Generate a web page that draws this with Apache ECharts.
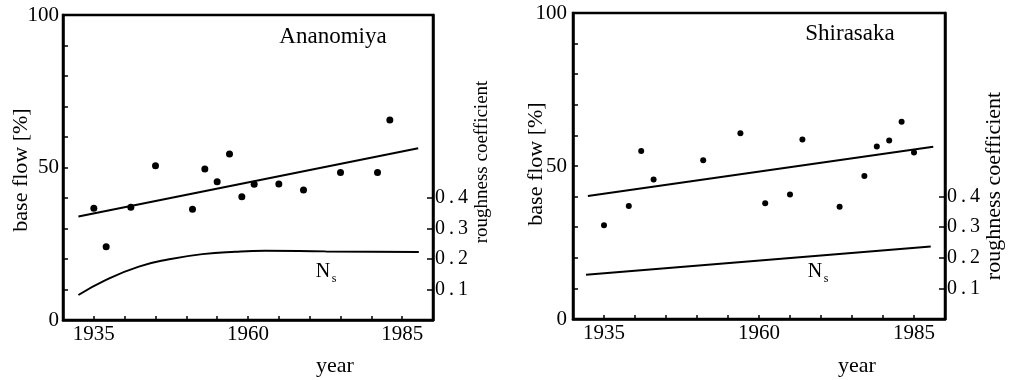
<!DOCTYPE html>
<html>
<head>
<meta charset="utf-8">
<script src="https://cdn.jsdelivr.net/npm/echarts@6/dist/echarts.min.js"></script>
<style>
html, body { margin: 0; padding: 0; background: #fff; }
#main { width: 1013px; height: 380px; }
</style>
</head>
<body>
<div id="main"></div>
<script>
// Ananomiya (left panel)
const anaYears = [1935, 1937, 1941, 1945, 1951, 1953, 1955, 1957, 1959, 1961, 1965, 1969, 1975, 1981, 1983];
const anaFlow = [36.6, 24.0, 37.0, 50.6, 36.3, 49.5, 45.3, 54.4, 40.4, 44.5, 44.6, 42.6, 48.4, 48.4, 65.6];
const anaTrendYears = [1932.5, 1987.6];
const anaTrendFlow = [33.9, 56.3];
const anaNsYears = [1932.5, 1936.9, 1942.3, 1947.2, 1952.6, 1958.0, 1962.8, 1972.6, 1987.7];
const anaNs = [0.082, 0.131, 0.175, 0.199, 0.216, 0.224, 0.227, 0.225, 0.223];

// Shirasaka (right panel)
const shiYears = [1935, 1939, 1941, 1943, 1951, 1957, 1961, 1965, 1967, 1973, 1977, 1979, 1981, 1983, 1985];
const shiFlow = [30.6, 36.9, 54.9, 45.6, 51.9, 60.7, 37.8, 40.7, 58.7, 36.7, 46.7, 56.4, 58.3, 64.5, 54.4];
const shiTrendYears = [1932.4, 1988.1];
const shiTrendFlow = [40.2, 56.3];
const shiNsYears = [1932.1, 1987.7];
const shiNs = [0.145, 0.237];

// axis ticks / labels
const yearTicks = [1935, 1940, 1945, 1950, 1955, 1960, 1965, 1970, 1975, 1980, 1985];
const yearLabels = [1935, 1960, 1985];
const flowTicks = [10, 20, 30, 40, 50, 60, 70, 80, 90];
const flowLabels = [0, 50, 100];
const roughTicks = [0.1, 0.2, 0.3, 0.4];

const FONT = "Liberation Serif";
const zip = (xs, ys) => xs.map((x, i) => [x, ys[i]]);

const myChart = echarts.init(document.getElementById("main"));

function xAx(gi) {
    return {
        type: "value", gridIndex: gi, min: 1930, max: 1990,
        axisLine: { lineStyle: { color: "#000", width: 2.5 } },
        axisTick: { inside: true, length: 4, customValues: yearTicks, lineStyle: { color: "#000", width: 1.5 } },
        axisLabel: { customValues: yearLabels, margin: 4, color: "#000", fontFamily: FONT, fontSize: 21,
            formatter: (v) => String(v) },
        splitLine: { show: false },
    };
}
function yAx(gi, lblMargin) {
    return {
        type: "value", gridIndex: gi, min: 0, max: 100,
        axisLine: { show: true, lineStyle: { color: "#000", width: 2.5 } },
        axisTick: { show: true, inside: true, length: 5, customValues: flowTicks, lineStyle: { color: "#000", width: 1.5 } },
        axisLabel: { customValues: flowLabels, margin: lblMargin, color: "#000", fontFamily: FONT, fontSize: 21,
            formatter: (v) => String(v) },
        splitLine: { show: false },
    };
}
function rAx(gi) {
    return {
        type: "value", gridIndex: gi, position: "right", min: 0, max: 1,
        axisLine: { show: true, lineStyle: { color: "#000", width: 2.5 } },
        axisTick: { show: true, inside: true, length: 6, customValues: roughTicks, lineStyle: { color: "#000", width: 1.5 } },
        axisLabel: { customValues: roughTicks, margin: 2, color: "#000", fontFamily: FONT, fontSize: 20,
            formatter: (v) => v.toFixed(1).replace(".", "\u2009.\u2009") },
        splitLine: { show: false },
    };
}
function line(xi, yi, data, smooth) {
    return {
        type: "line", xAxisIndex: xi, yAxisIndex: yi, data: data, smooth: smooth,
        showSymbol: false, silent: true,
        lineStyle: { color: "#000", width: 2 },
    };
}
function text(x, y, str, size, rot) {
    return {
        type: "text", x: x, y: y, rotation: rot || 0,
        style: { text: str, font: size + "px '" + FONT + "'", fill: "#000", align: "center", verticalAlign: "middle" },
    };
}

let option = {
    animation: false,
    grid: [
        { left: 63, top: 15, width: 370, height: 305, show: true, borderColor: "#000", borderWidth: 2.5 },
        { left: 573, top: 13, width: 372, height: 306, show: true, borderColor: "#000", borderWidth: 2.5 },
    ],
    xAxis: [xAx(0), xAx(1)],
    yAxis: [yAx(0, 4), rAx(0), yAx(1, 6), rAx(1)],
    series: [
        { type: "scatter", xAxisIndex: 0, yAxisIndex: 0, data: zip(anaYears, anaFlow),
          symbolSize: 7, itemStyle: { color: "#000", opacity: 1 } },
        line(0, 0, zip(anaTrendYears, anaTrendFlow), false),
        line(0, 1, zip(anaNsYears, anaNs), true),
        { type: "scatter", xAxisIndex: 1, yAxisIndex: 2, data: zip(shiYears, shiFlow),
          symbolSize: 6, itemStyle: { color: "#000", opacity: 1 } },
        line(1, 2, zip(shiTrendYears, shiTrendFlow), false),
        line(1, 3, zip(shiNsYears, shiNs), false),
    ],
    graphic: [
        text(333, 37, "Ananomiya", 23),
        text(850, 34, "Shirasaka", 23),
        text(21, 170, "base flow [%]", 22, Math.PI / 2),
        text(536, 164, "base flow [%]", 22, Math.PI / 2),
        text(482, 162, "roughness coefficient", 19, Math.PI / 2),
        text(994, 186, "roughness coefficient", 22, Math.PI / 2),
        text(335, 366, "year", 22),
        text(857, 366, "year", 22),
        text(323, 272, "N", 20),
        text(334, 279, "s", 12),
        text(815, 272, "N", 20),
        text(826, 279, "s", 12),
    ],
};
myChart.setOption(option);
</script>
</body>
</html>
